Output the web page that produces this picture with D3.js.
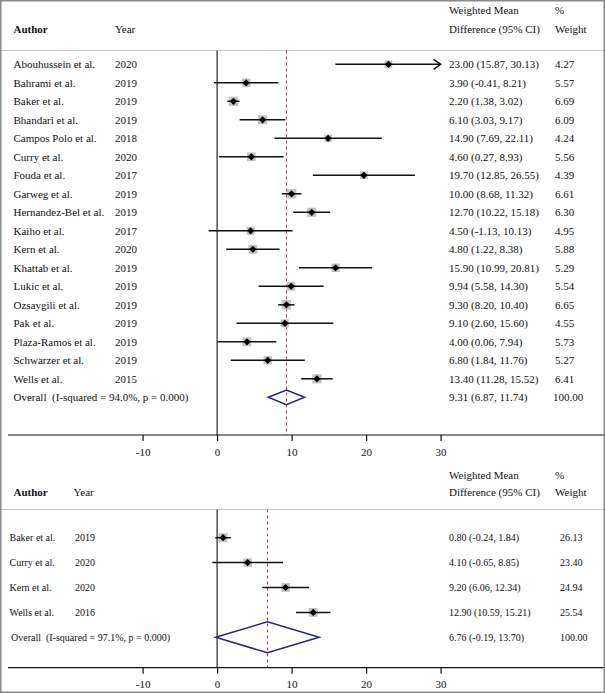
<!DOCTYPE html>
<html>
<head>
<meta charset="utf-8">
<script src="https://cdn.jsdelivr.net/npm/d3@7"></script>
<style>
  html, body { margin: 0; padding: 0; background: #fff; }
  svg { display: block; }
  text { font-family: "Liberation Serif", "Times New Roman", serif; fill: #111; white-space: pre; }
</style>
</head>
<body>
<div id="chart"></div>
<script>
// ---------- Data: panel 1 ----------
const authors1 = ["Abouhussein et al.", "Bahrami et al.", "Baker et al.", "Bhandari et al.", "Campos Polo et al.",
  "Curry et al.", "Fouda et al.", "Garweg et al.", "Hernandez-Bel et al.", "Kaiho et al.", "Kern et al.",
  "Khattab et al.", "Lukic et al.", "Ozsaygili et al.", "Pak et al.", "Plaza-Ramos et al.", "Schwarzer et al.", "Wells et al."];
const years1 = ["2020", "2019", "2019", "2019", "2018", "2020", "2017", "2019", "2019", "2017", "2020",
  "2019", "2019", "2019", "2019", "2019", "2019", "2015"];
const est1 = [23.00, 3.90, 2.20, 6.10, 14.90, 4.60, 19.70, 10.00, 12.70, 4.50, 4.80, 15.90, 9.94, 9.30, 9.10, 4.00, 6.80, 13.40];
const lo1  = [15.87, -0.41, 1.38, 3.03, 7.69, 0.27, 12.85, 8.68, 10.22, -1.13, 1.22, 10.99, 5.58, 8.20, 2.60, 0.06, 1.84, 11.28];
const hi1  = [30.13, 8.21, 3.02, 9.17, 22.11, 8.93, 26.55, 11.32, 15.18, 10.13, 8.38, 20.81, 14.30, 10.40, 15.60, 7.94, 11.76, 15.52];
const weights1 = [4.27, 5.57, 6.69, 6.09, 4.24, 5.56, 4.39, 6.61, 6.30, 4.95, 5.88, 5.29, 5.54, 6.65, 4.55, 5.73, 5.27, 6.41];
const overallLabel1 = "Overall  (I-squared = 94.0%, p = 0.000)";
const overall1 = [9.31, 6.87, 11.74, 100.00]; // estimate, lower, upper, weight

// ---------- Data: panel 2 ----------
const authors2 = ["Baker et al.", "Curry et al.", "Kern et al.", "Wells et al."];
const years2 = ["2019", "2020", "2020", "2016"];
const est2 = [0.80, 4.10, 9.20, 12.90];
const lo2  = [-0.24, -0.65, 6.06, 10.59];
const hi2  = [1.84, 8.85, 12.34, 15.21];
const weights2 = [26.13, 23.40, 24.94, 25.54];
const overallLabel2 = "Overall  (I-squared = 97.1%, p = 0.000)";
const overall2 = [6.76, -0.19, 13.70, 100.00];

// ---------- Axis ----------
const tickValues = [-10, 0, 10, 20, 30];
const axisDomain = [-10, 30];

const W = 605, H = 693;
const svg = d3.select("#chart").append("svg").attr("width", W).attr("height", H);

const x = d3.scaleLinear().domain(axisDomain).range([142.6, 440.6]);
const f2raw = d3.format(".2f");
const f2 = v => f2raw(v).replace("\u2212", "-");
const dashColor = "#a23b48";
const diamondColor = "#262678";

function drawPanel(p) {
  const g = svg.append("g");
  const n = p.authors.length;
  const y = d3.scaleLinear().domain([0, n]).range([p.row0, p.row0 + p.step * n]);
  const box = d3.scaleSqrt().domain([0, d3.max(p.weights)]).range([0, p.boxMax]);

  // header
  g.append("text").attr("x", 13.5).attr("y", p.hY2).attr("dy", "0.35em")
    .attr("font-size", 11).attr("font-weight", "bold").text("Author");
  g.append("text").attr("x", p.yearHX).attr("y", p.hY2).attr("dy", "0.35em")
    .attr("font-size", 11).text("Year");
  g.append("text").attr("x", 449).attr("y", p.hY1).attr("dy", "0.35em").attr("font-size", 11).text("Weighted Mean");
  g.append("text").attr("x", 449).attr("y", p.hY2).attr("dy", "0.35em").attr("font-size", 11).text("Difference (95% CI)");
  g.append("text").attr("x", 555).attr("y", p.hY1).attr("dy", "0.35em").attr("font-size", 11).text("%");
  g.append("text").attr("x", 555).attr("y", p.hY2).attr("dy", "0.35em").attr("font-size", 11).text("Weight");

  // separator
  g.append("line").attr("x1", 0).attr("x2", W).attr("y1", p.sepY).attr("y2", p.sepY)
    .attr("stroke", "#c8c8c8").attr("stroke-width", 1);

  // zero line
  g.append("line").attr("x1", x(0)).attr("x2", x(0)).attr("y1", p.sepY).attr("y2", p.axisY)
    .attr("stroke", "#111").attr("stroke-width", 1.1);
  // overall dashed line
  g.append("line").attr("x1", x(p.overall[0])).attr("x2", x(p.overall[0])).attr("y1", p.sepY).attr("y2", p.axisY)
    .attr("stroke", dashColor).attr("stroke-width", 1).attr("stroke-dasharray", "3,3");

  const xmax = axisDomain[1];
  // rows
  for (let i = 0; i < n; i++) {
    const cy = y(i);
    g.append("text").attr("x", p.authX).attr("y", cy).attr("dy", "0.35em").attr("font-size", p.fs).text(p.authors[i]);
    g.append("text").attr("x", p.yearX).attr("y", cy).attr("dy", "0.35em").attr("font-size", p.fs).text(p.years[i]);
    g.append("text").attr("x", 449).attr("y", cy).attr("dy", "0.35em").attr("font-size", p.fs)
      .text(`${f2(p.est[i])} (${f2(p.lo[i])}, ${f2(p.hi[i])})`);
    g.append("text").attr("x", p.wX).attr("y", cy).attr("dy", "0.35em").attr("font-size", p.fs).text(f2(p.weights[i]));

    // weight box
    const s = box(p.weights[i]);
    g.append("rect").attr("x", x(p.est[i]) - s / 2).attr("y", cy - s / 2).attr("width", s).attr("height", s)
      .attr("fill", "#c4c4c4");
    // CI line
    const hiClip = Math.min(p.hi[i], xmax);
    g.append("line").attr("x1", x(p.lo[i])).attr("x2", x(hiClip)).attr("y1", cy).attr("y2", cy)
      .attr("stroke", "#111").attr("stroke-width", 1.5);
    if (p.hi[i] > xmax) {
      const ax = x(xmax);
      g.append("path").attr("d", `M${ax - 7},${cy - 5}L${ax},${cy}L${ax - 7},${cy + 5}`)
        .attr("fill", "none").attr("stroke", "#111").attr("stroke-width", 1.5);
    }
    // marker diamond
    const cx = x(p.est[i]), r = 3.6;
    g.append("path").attr("d", `M${cx - r},${cy}L${cx},${cy - r}L${cx + r},${cy}L${cx},${cy + r}Z`).attr("fill", "#000");
  }

  // overall row
  const oy = y(n);
  g.append("text").attr("x", p.ovX).attr("y", oy).attr("dy", "0.35em").attr("font-size", p.fs).text(p.overallLabel);
  g.append("text").attr("x", 449).attr("y", oy).attr("dy", "0.35em").attr("font-size", p.fs)
    .text(`${f2(p.overall[0])} (${f2(p.overall[1])}, ${f2(p.overall[2])})`);
  g.append("text").attr("x", p.wOX).attr("y", oy).attr("dy", "0.35em").attr("font-size", p.fs).text(f2(p.overall[3]));
  const dh = p.dH;
  g.append("path")
    .attr("d", `M${x(p.overall[1])},${oy}L${x(p.overall[0])},${oy - dh}L${x(p.overall[2])},${oy}L${x(p.overall[0])},${oy + dh}Z`)
    .attr("fill", "none").attr("stroke", diamondColor).attr("stroke-width", 1.5);

  // axis
  g.append("line").attr("x1", 8).attr("x2", W).attr("y1", p.axisY).attr("y2", p.axisY)
    .attr("stroke", "#111").attr("stroke-width", 1.2);
  const ax = g.append("g").attr("transform", `translate(0,${p.axisY})`)
    .call(d3.axisBottom(x).tickValues(tickValues).tickSize(6).tickPadding(7).tickFormat(d => String(d)));
  ax.select(".domain").remove();
  ax.selectAll(".tick line").attr("stroke", "#111").attr("stroke-width", 1.2);
  ax.selectAll(".tick text").attr("font-size", 11).attr("font-family", "Liberation Serif, Times New Roman, serif").attr("fill", "#111");
}

drawPanel({
  authors: authors1, years: years1, est: est1, lo: lo1, hi: hi1, weights: weights1,
  overall: overall1, overallLabel: overallLabel1,
  hY1: 10.5, hY2: 29, sepY: 50.5, row0: 64.3, step: 18.5, axisY: 435,
  authX: 13.5, yearX: 115, yearHX: 115, ovX: 13.5, wX: 555, wOX: 553, fs: 11, boxMax: 9.5, dH: 7.3
});

drawPanel({
  authors: authors2, years: years2, est: est2, lo: lo2, hi: hi2, weights: weights2,
  overall: overall2, overallLabel: overallLabel2,
  hY1: 475, hY2: 492, sepY: 509.5, row0: 537.7, step: 24.9, axisY: 667.7,
  authX: 9.5, yearX: 75, yearHX: 73.5, ovX: 11, wX: 560, wOX: 560, fs: 10, boxMax: 9, dH: 15.5
});

// outer frame
svg.append("rect").attr("x", 0.75).attr("y", 0.75).attr("width", W - 1.5).attr("height", H - 1.5)
  .attr("fill", "none").attr("stroke", "#8a8a8a").attr("stroke-width", 1.5);
</script>
</body>
</html>
